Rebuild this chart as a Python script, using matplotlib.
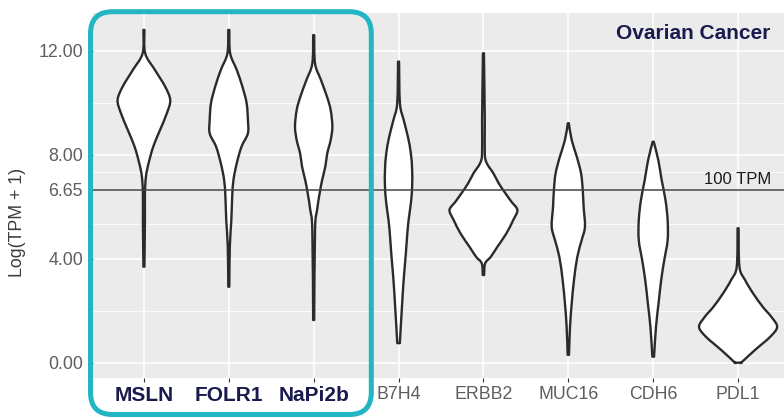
import matplotlib
matplotlib.use('Agg')
import matplotlib.pyplot as plt
from matplotlib.patches import FancyBboxPatch, PathPatch
from matplotlib.path import Path
from matplotlib.transforms import IdentityTransform

plt.rcParams['font.family'] = ['Liberation Sans', 'DejaVu Sans']

# categories
genes = ['MSLN', 'FOLR1', 'NaPi2b', 'B7H4', 'ERBB2', 'MUC16', 'CDH6', 'PDL1']
highlight = ['MSLN', 'FOLR1', 'NaPi2b']

# violin outlines: (log value, half width)
msln_y = [3.69, 5.48, 6.51, 7.16, 7.67, 8.31, 8.95, 9.59, 10.10, 10.62, 11.26, 11.90, 12.80]
msln_w = [0.006, 0.012, 0.012, 0.024, 0.055, 0.11, 0.19, 0.27, 0.31, 0.25, 0.13, 0.015, 0.006]
folr1_y = [2.92, 4.46, 5.48, 6.39, 7.03, 7.67, 8.31, 8.82, 9.34, 9.98, 10.62, 11.26, 11.90, 12.80]
folr1_w = [0.006, 0.012, 0.03, 0.04, 0.055, 0.094, 0.15, 0.225, 0.225, 0.21, 0.16, 0.094, 0.016, 0.006]
napi2b_y = [1.64, 5.10, 5.87, 6.51, 7.03, 7.54, 8.05, 8.56, 9.08, 9.72, 10.23, 10.87, 11.51, 12.60]
napi2b_w = [0.006, 0.016, 0.04, 0.07, 0.10, 0.137, 0.16, 0.20, 0.22, 0.20, 0.157, 0.086, 0.016, 0.006]
b7h4_y = [0.75, 1.25, 2.15, 3.18, 4.20, 4.84, 5.48, 6.13, 6.77, 7.41, 8.05, 8.69, 9.34, 9.98, 11.58]
b7h4_w = [0.015, 0.024, 0.04, 0.06, 0.086, 0.10, 0.118, 0.145, 0.16, 0.16, 0.145, 0.11, 0.06, 0.016, 0.006]
erbb2_y = [3.37, 3.82, 4.07, 4.46, 4.97, 5.48, 5.87, 6.19, 6.51, 6.90, 7.28, 7.67, 8.05, 9.34, 11.90]
erbb2_w = [0.008, 0.02, 0.086, 0.165, 0.27, 0.35, 0.40, 0.33, 0.26, 0.18, 0.118, 0.04, 0.016, 0.016, 0.006]
muc16_y = [0.30, 1.38, 2.28, 3.18, 4.07, 4.71, 5.23, 6.00, 6.64, 7.28, 7.92, 8.56, 9.21]
muc16_w = [0.008, 0.02, 0.04, 0.067, 0.106, 0.157, 0.196, 0.18, 0.17, 0.15, 0.10, 0.04, 0.006]
cdh6_y = [0.23, 1.38, 2.28, 3.18, 3.94, 4.71, 5.48, 6.25, 7.02, 7.79, 8.50]
cdh6_w = [0.01, 0.033, 0.063, 0.094, 0.13, 0.17, 0.17, 0.145, 0.10, 0.06, 0.006]
pdl1_y = [0.0, 0.04, 0.49, 1.00, 1.38, 1.77, 2.15, 2.67, 3.18, 3.69, 5.17]
pdl1_w = [0.04, 0.05, 0.2, 0.38, 0.46, 0.39, 0.29, 0.176, 0.082, 0.016, 0.006]

profiles = [(msln_y, msln_w), (folr1_y, folr1_w), (napi2b_y, napi2b_w), (b7h4_y, b7h4_w),
            (erbb2_y, erbb2_w), (muc16_y, muc16_w), (cdh6_y, cdh6_w), (pdl1_y, pdl1_w)]

yticks = [0.0, 4.0, 6.65, 8.0, 12.0]
threshold = 6.65

navy = '#1a1a4e'
teal = '#22b5c4'


def violin_path(p, ys, ws):
    """closed outline, smooth (catmull-rom as bezier) along each side"""
    n = len(ys)
    right = [(p + w, y) for w, y in zip(ws, ys)]
    left = [(p - w, y) for w, y in zip(ws[::-1], ys[::-1])]
    verts, codes = [right[0]], [Path.MOVETO]
    for side in (right, left):
        if side is left:
            verts.append(side[0])
            codes.append(Path.LINETO)
        for i in range(n - 1):
            p0 = side[max(i - 1, 0)]
            p1, p2 = side[i], side[i + 1]
            p3 = side[min(i + 2, n - 1)]
            c1 = (p1[0] + (p2[0] - p0[0]) / 6, p1[1] + (p2[1] - p0[1]) / 6)
            c2 = (p2[0] - (p3[0] - p1[0]) / 6, p2[1] - (p3[1] - p1[1]) / 6)
            verts += [c1, c2, p2]
            codes += [Path.CURVE4] * 3
    verts.append(right[0])
    codes.append(Path.CLOSEPOLY)
    return Path(verts, codes)


fig = plt.figure(figsize=(7.84, 4.18), dpi=100)
ax = fig.add_axes([0.1186, 0.0957, 0.8878, 0.8732])
ax.set_facecolor('#ebebeb')
for s in ax.spines.values():
    s.set_visible(False)

pos = list(range(1, len(genes) + 1))
for p, (ys, ws) in zip(pos, profiles):
    ax.add_patch(PathPatch(violin_path(p, ys, ws), facecolor='white', edgecolor='#2b2b2b',
                           lw=1.7, zorder=3, joinstyle='round'))

# 100 TPM line
ax.axhline(threshold, color='#444444', lw=1.1, zorder=4)
ax.text(pos[-1], threshold + 0.12, '100 TPM', ha='center', va='bottom', fontsize=12, color='#1a1a1a', zorder=5)

ax.set_xlim(0.4, 8.6)
ax.set_ylim(-0.59, 13.45)
ax.set_xticks(pos)
ax.set_xticklabels(genes)
ax.set_yticks(yticks)
ax.set_yticklabels(['%.2f' % v for v in yticks])
minor = [(a + b) / 2 for a, b in zip(yticks[:-1], yticks[1:])]
ax.set_yticks(minor, minor=True)
ax.tick_params(axis='y', which='minor', length=0)
ax.tick_params(axis='both', which='major', length=2.75, color='#333333', labelsize=12.8, labelcolor='#5e5e5e')
ax.tick_params(axis='y', pad=4.5)
ax.tick_params(axis='x', pad=3)
ax.grid(True, which='major', color='white', lw=1.2, zorder=0)
ax.grid(True, which='minor', axis='y', color='white', lw=0.6, zorder=0)
ax.set_axisbelow(True)

for lbl in ax.get_xticklabels():
    if lbl.get_text() in highlight:
        lbl.set_fontweight('bold')
        lbl.set_fontsize(15)
        lbl.set_color(navy)

ax.text(8.376, 12.68, 'Ovarian Cancer', ha='right', va='center', fontsize=15,
        fontweight='bold', color=navy, zorder=5)

fig.text(18 / 784, 1 - 222 / 418, 'Log(TPM + 1)', rotation=90, ha='center', va='center',
         fontsize=12.8, color='#3d3d3d')

# highlight box around the first three targets
box = FancyBboxPatch((90.5, 418 - 414.5), 371.3 - 90.5, 414.5 - 11.7,
                     boxstyle='round,pad=0,rounding_size=22', transform=IdentityTransform(),
                     facecolor='none', edgecolor=teal, lw=3.6, clip_on=False, zorder=10)
fig.add_artist(box)

fig.savefig('out.png', dpi=100)
